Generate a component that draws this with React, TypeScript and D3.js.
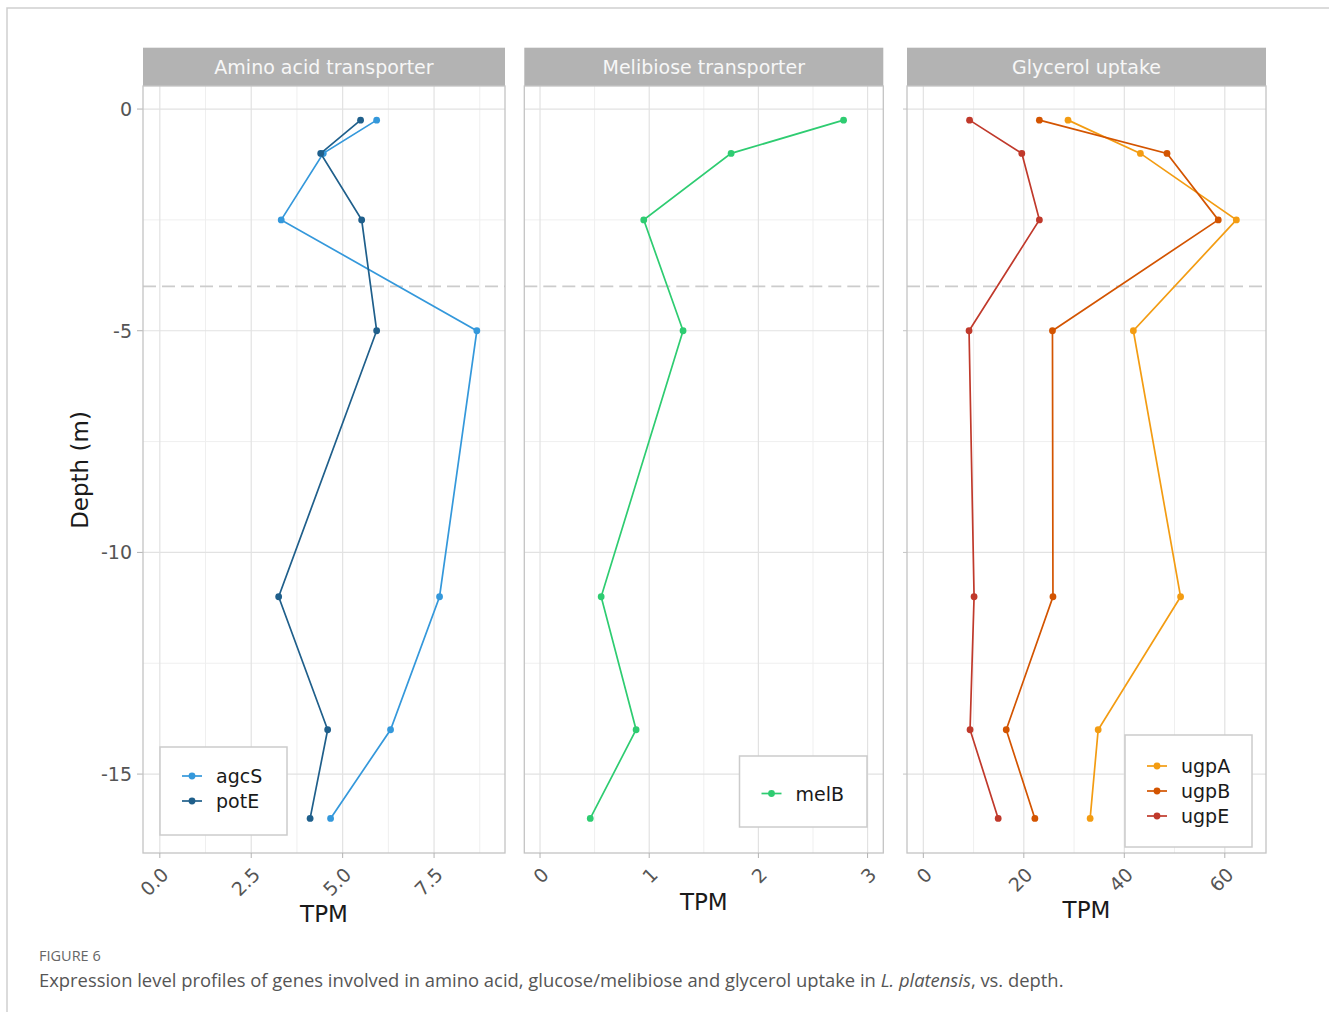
import * as d3 from "d3";
import React from "react";

// depth of each sample (m)
const DEPTH = [-0.25, -1, -2.5, -5, -11, -14, -16];

// TPM per gene, in depth order
const AGCS = [5.93, 4.47, 3.32, 8.67, 7.65, 6.31, 4.67];
const POTE = [5.49, 4.4, 5.52, 5.93, 3.25, 4.59, 4.11];
const MELB = [2.78, 1.75, 0.95, 1.31, 0.56, 0.88, 0.46];
const UGPA = [28.8, 43.2, 62.3, 41.8, 51.2, 34.8, 33.2];
const UGPB = [23.1, 48.5, 58.7, 25.7, 25.8, 16.5, 22.2];
const UGPE = [9.2, 19.6, 23.1, 9.1, 10.1, 9.3, 14.9];

const Y_TICKS = [0, -5, -10, -15];
const Y_MINOR = [-2.5, -7.5, -12.5];
const THERMOCLINE = -4;

const PANEL_TITLES = ["Amino acid transporter", "Melibiose transporter", "Glycerol uptake"];

const panels = [
  {
    title: PANEL_TITLES[0],
    x0: 143, x1: 505,
    domain: [-0.46, 9.44],
    ticks: [0, 2.5, 5, 7.5],
    tickLabels: ["0.0", "2.5", "5.0", "7.5"],
    minor: [1.25, 3.75, 6.25, 8.75],
    series: [
      { name: "agcS", color: "#3498db", values: AGCS },
      { name: "potE", color: "#1f5f8b", values: POTE },
    ],
    legend: { x: 160, y: 747, w: 127, h: 88, firstY: 776 },
    yTicks: false,
  },
  {
    title: PANEL_TITLES[1],
    x0: 524.3, x1: 883.3,
    domain: [-0.144, 3.144],
    ticks: [0, 1, 2, 3],
    tickLabels: ["0", "1", "2", "3"],
    minor: [0.5, 1.5, 2.5],
    series: [{ name: "melB", color: "#2ecc71", values: MELB }],
    legend: { x: 739.5, y: 756, w: 127.5, h: 71, firstY: 793.5 },
    yTicks: false,
  },
  {
    title: PANEL_TITLES[2],
    x0: 907, x1: 1266,
    domain: [-3.25, 68.2],
    ticks: [0, 20, 40, 60],
    tickLabels: ["0", "20", "40", "60"],
    minor: [10, 30, 50],
    series: [
      { name: "ugpA", color: "#f39c12", values: UGPA },
      { name: "ugpB", color: "#d35400", values: UGPB },
      { name: "ugpE", color: "#c0392b", values: UGPE },
    ],
    legend: { x: 1125, y: 735, w: 127, h: 112, firstY: 766 },
    yTicks: true,
  },
];

const STRIP_TOP = 47.7;
const PLOT_TOP = 86;
const PLOT_BOTTOM = 853;
const FONT = "'DejaVu Sans', sans-serif";

// rough DejaVu Sans widths for tick labels
const labelWidth = (s: string, size: number) =>
  s.split("").reduce((w, c) => w + (c === "." ? 0.318 : 0.636), 0) * size;

export default function App() {
  const y = d3.scaleLinear().domain([0.52, -16.78]).range([PLOT_TOP, PLOT_BOTTOM]);

  return (
    <svg
      width={1329}
      height={1012}
      style={{ position: "absolute", left: 0, top: 0, background: "#fff" }}
    >
      <path d="M7,1012 V8 H1329" fill="none" stroke="#cfcfcf" strokeWidth={1.5} />

      {/* y axis labels, left panel only */}
      {Y_TICKS.map((t) => (
        <g key={"yt" + t}>
          <line x1={137} x2={143} y1={y(t)} y2={y(t)} stroke="#b3b3b3" />
          <text
            x={132}
            y={y(t)}
            textAnchor="end"
            dominantBaseline="central"
            fontFamily={FONT}
            fontSize={19}
            fill="#555"
          >
            {t}
          </text>
        </g>
      ))}
      <text
        transform={`translate(88,470) rotate(-90)`}
        textAnchor="middle"
        fontFamily={FONT}
        fontSize={23}
        fill="#1a1a1a"
      >
        Depth (m)
      </text>

      {panels.map((p, pi) => {
        const x = d3.scaleLinear().domain(p.domain).range([p.x0, p.x1]);
        const line = d3
          .line<number>()
          .x((v) => x(v))
          .y((_, i) => y(DEPTH[i]));
        const maxW = d3.max(p.tickLabels, (l) => labelWidth(l, 19)) || 0;
        const titleY = 871 + maxW * 0.707 + 22;
        const cx = (p.x0 + p.x1) / 2;
        return (
          <g key={pi}>
            {/* strip */}
            <rect x={p.x0} y={STRIP_TOP} width={p.x1 - p.x0} height={PLOT_TOP - STRIP_TOP} fill="#b3b3b3" />
            <text
              x={cx}
              y={(STRIP_TOP + PLOT_TOP) / 2}
              textAnchor="middle"
              dominantBaseline="central"
              fontFamily={FONT}
              fontSize={19}
              fill="#f7f7f7"
            >
              {p.title}
            </text>

            {/* grid */}
            {p.minor.map((t) => (
              <line key={"vm" + t} x1={x(t)} x2={x(t)} y1={PLOT_TOP} y2={PLOT_BOTTOM} stroke="#efefef" strokeWidth={1} />
            ))}
            {Y_MINOR.map((t) => (
              <line key={"hm" + t} x1={p.x0} x2={p.x1} y1={y(t)} y2={y(t)} stroke="#efefef" strokeWidth={1} />
            ))}
            {p.ticks.map((t) => (
              <line key={"vM" + t} x1={x(t)} x2={x(t)} y1={PLOT_TOP} y2={PLOT_BOTTOM} stroke="#e2e2e2" strokeWidth={1.2} />
            ))}
            {Y_TICKS.map((t) => (
              <line key={"hM" + t} x1={p.x0} x2={p.x1} y1={y(t)} y2={y(t)} stroke="#e2e2e2" strokeWidth={1.2} />
            ))}

            {/* dashed reference depth */}
            <line
              x1={p.x0}
              x2={p.x1}
              y1={y(THERMOCLINE)}
              y2={y(THERMOCLINE)}
              stroke="#cccccc"
              strokeWidth={1.6}
              strokeDasharray="13,6"
            />

            {/* series */}
            {p.series.map((s) => (
              <g key={s.name}>
                <path d={line(s.values) || ""} fill="none" stroke={s.color} strokeWidth={1.7} />
                {s.values.map((v, i) => (
                  <circle key={i} cx={x(v)} cy={y(DEPTH[i])} r={3.4} fill={s.color} />
                ))}
              </g>
            ))}

            {/* panel border */}
            <rect x={p.x0} y={PLOT_TOP} width={p.x1 - p.x0} height={PLOT_BOTTOM - PLOT_TOP} fill="none" stroke="#c4c4c4" strokeWidth={1.3} />

            {p.yTicks &&
              Y_TICKS.map((t) => (
                <line key={"pt" + t} x1={p.x0 - 4} x2={p.x0} y1={y(t)} y2={y(t)} stroke="#c4c4c4" />
              ))}

            {/* x axis */}
            {p.ticks.map((t, i) => (
              <g key={"xt" + t}>
                <line x1={x(t)} x2={x(t)} y1={PLOT_BOTTOM} y2={PLOT_BOTTOM + 5} stroke="#b3b3b3" />
                <text
                  transform={`translate(${x(t) + 5},871) rotate(-45)`}
                  textAnchor="end"
                  dominantBaseline="central"
                  fontFamily={FONT}
                  fontSize={19}
                  fill="#555"
                >
                  {p.tickLabels[i]}
                </text>
              </g>
            ))}
            <text
              x={cx}
              y={titleY}
              textAnchor="middle"
              dominantBaseline="central"
              fontFamily={FONT}
              fontSize={23}
              fill="#1a1a1a"
            >
              TPM
            </text>

            {/* legend */}
            <rect
              x={p.legend.x}
              y={p.legend.y}
              width={p.legend.w}
              height={p.legend.h}
              fill="#fff"
              stroke="#cccccc"
              strokeWidth={1.5}
            />
            {p.series.map((s, i) => {
              const ly = p.legend.firstY + i * 25;
              return (
                <g key={"lg" + s.name}>
                  <line x1={p.legend.x + 22} x2={p.legend.x + 42} y1={ly} y2={ly} stroke={s.color} strokeWidth={1.7} />
                  <circle cx={p.legend.x + 32} cy={ly} r={3.4} fill={s.color} />
                  <text
                    x={p.legend.x + 56}
                    y={ly}
                    dominantBaseline="central"
                    fontFamily={FONT}
                    fontSize={19}
                    fill="#1a1a1a"
                  >
                    {s.name}
                  </text>
                </g>
              );
            })}
          </g>
        );
      })}

      {/* caption */}
      <text x={39} y={961} fontFamily="'Open Sans', sans-serif" fontSize={14.5} fill="#666">
        FIGURE 6
      </text>
      <text x={39} y={987} fontFamily="'Open Sans', sans-serif" fontSize={18.4} fill="#555">
        Expression level profiles of genes involved in amino acid, glucose/melibiose and glycerol uptake in{" "}
        <tspan fontStyle="italic">L. platensis</tspan>, vs. depth.
      </text>
    </svg>
  );
}
